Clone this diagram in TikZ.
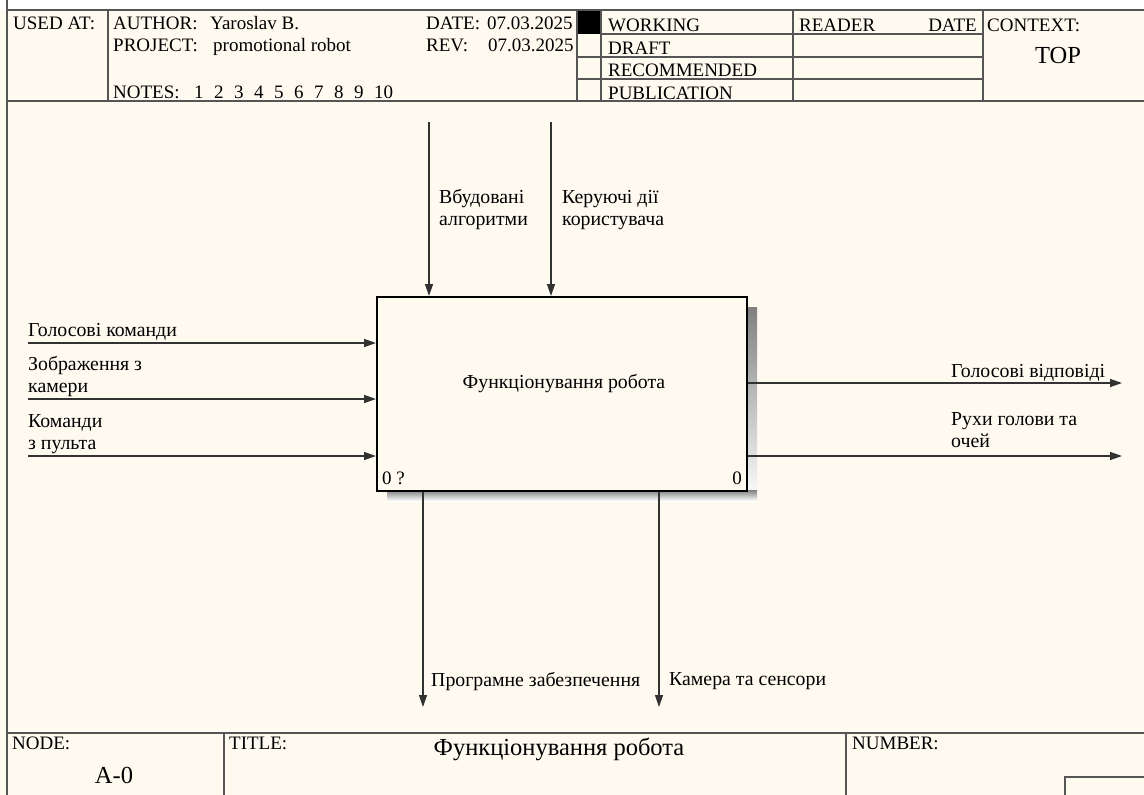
\documentclass[tikz,border=0pt]{standalone}
\usepackage{fontspec}
\setmainfont{Liberation Serif}
\usetikzlibrary{arrows.meta}
\definecolor{paper}{RGB}{255,250,240}
\definecolor{frameline}{RGB}{85,85,85}
\definecolor{conline}{RGB}{50,50,50}
\definecolor{shade}{RGB}{145,145,145}
\begin{document}
\begin{tikzpicture}[x=1pt,y=-1pt,
  hdr/.style={anchor=base west, inner sep=0pt, font=\fontsize{19}{21.5}\selectfont},
  big/.style={anchor=base, inner sep=0pt, font=\fontsize{24.5}{28}\selectfont},
  lbl/.style={anchor=base west, inner sep=0pt, align=left, font=\fontsize{19.8}{21.8}\selectfont},
  frm/.style={draw=frameline, line width=1.4pt},
  con/.style={draw=conline, line width=1.3pt, -{Triangle[length=12pt,width=8pt]}},
  proc/.style={draw=black, line width=2pt, fill=paper, anchor=north west, inner sep=0pt,
               minimum width=370pt, minimum height=194pt},
]
\fill[paper] (0,0) rectangle (1144,795);
\fill[white] (0,0) rectangle (1144,10);
\useasboundingbox (0,0) rectangle (1144,795);

% ---------- header form ----------
\node[hdr] (usedat) at (13,30) {USED AT:};
\node[hdr] (author) at (113,30) {AUTHOR:};
\node[hdr] (authorv) at (210,30) {Yaroslav B.};
\node[hdr] (project) at (113,51) {PROJECT:};
\node[hdr] (projectv) at (213,51) {promotional robot};
\node[hdr] (notes) at (113,98) {NOTES:};
\foreach \i in {1,...,10} {
  \node[hdr, anchor=base west] (note\i) at ({194+20*(\i-1)},98) {\i};
}
\node[hdr] (date) at (426,30) {DATE:};
\node[hdr] (datev) at (487,30) {07.03.2025};
\node[hdr] (rev) at (426,51) {REV:};
\node[hdr] (revv) at (488,51) {07.03.2025};
\fill[black] (577,10) rectangle (601,34);
\node[hdr] (working) at (608,31) {WORKING};
\node[hdr] (draft) at (608,54) {DRAFT};
\node[hdr] (recom) at (608,76) {RECOMMENDED};
\node[hdr] (publ) at (608,99) {PUBLICATION};
\node[hdr] (reader) at (799,31) {READER};
\node[hdr, anchor=base east] (rdate) at (977,31) {DATE};
\node[hdr] (context) at (987,31) {CONTEXT:};
\node[big] (top) at (1058,63) {TOP};

\draw[frm] (7,0) -- (7,795);
\draw[frm] (7,10) -- (1144,10);
\draw[frm] (7,101) -- (1144,101);
\draw[frm] (108,10) -- (108,101);
\draw[frm] (577,10) -- (577,101);
\draw[frm] (601,10) -- (601,101);
\draw[frm] (793,10) -- (793,101);
\draw[frm] (983,10) -- (983,101);
\draw[frm] (601,34) -- (983,34);
\draw[frm] (577,57) -- (983,57);
\draw[frm] (577,79) -- (983,79);

% ---------- footer form ----------
\draw[frm] (7,733) -- (1144,733);
\draw[frm] (224,733) -- (224,795);
\draw[frm] (846,733) -- (846,795);
\draw[frm] (1065,795) -- (1065,777) -- (1144,777);
\node[hdr] (nodelbl) at (12,749) {NODE:};
\node[big] (nodeval) at (114,783) {A-0};
\node[hdr] (titlelbl) at (229,749) {TITLE:};
\node[big] (titleval) at (559,755) {Функціонування робота};
\node[hdr] (numlbl) at (852,749) {NUMBER:};

% ---------- activity box ----------
\fill[shade] (746,307) rectangle (757,501);
\fill[shade] (387,490) rectangle (757,501);
\node[proc] (box) at (376,296) {};
\node[lbl, anchor=base] (boxt) at (564,388) {Функціонування робота};
\node[hdr] (boxnum) at (382,484) {0 ?};
\node[hdr, anchor=base east] (boxnode) at (742,484) {0};

% ---------- controls ----------
\coordinate (ctl1) at (429,122);
\coordinate (ctl2) at (551,122);
\draw[con] (ctl1) -- (ctl1 |- box.north);
\draw[con] (ctl2) -- (ctl2 |- box.north);
\node[lbl] (ctl1t) at (439,225) {Вбудовані\\алгоритми};
\node[lbl] (ctl2t) at (562,225) {Керуючі дії\\користувача};

% ---------- inputs ----------
\coordinate (in1) at (28,343);
\coordinate (in2) at (28,399);
\coordinate (in3) at (28,456);
\draw[con] (in1) -- (in1 -| box.west);
\draw[con] (in2) -- (in2 -| box.west);
\draw[con] (in3) -- (in3 -| box.west);
\node[lbl] (in1t) at (28,336) {Голосові команди};
\node[lbl] (in2t) at (28,392) {Зображення з\\камери};
\node[lbl] (in3t) at (28,449) {Команди\\з пульта};

% ---------- outputs ----------
\coordinate (out1) at (1122,383);
\coordinate (out2) at (1122,456);
\draw[con] (out1 -| box.east) -- (out1);
\draw[con] (out2 -| box.east) -- (out2);
\node[lbl] (out1t) at (951,377) {Голосові відповіді};
\node[lbl] (out2t) at (951,447) {Рухи голови та\\очей};

% ---------- mechanisms ----------
\coordinate (mech1) at (423,707);
\coordinate (mech2) at (659,707);
\draw[con] (mech1 |- box.south) -- (mech1);
\draw[con] (mech2 |- box.south) -- (mech2);
\node[lbl] (mech1t) at (431,686) {Програмне забезпечення};
\node[lbl] (mech2t) at (669,685) {Камера та сенсори};
\end{tikzpicture}
\end{document}
